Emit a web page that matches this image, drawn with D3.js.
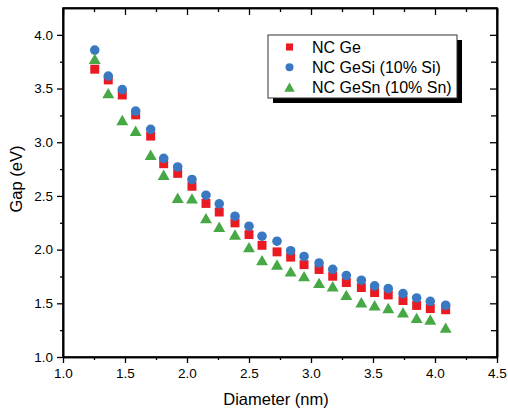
<!DOCTYPE html>
<html><head><meta charset="utf-8">
<script src="https://cdn.jsdelivr.net/npm/d3@7"></script>
<style>
html,body{margin:0;padding:0;background:#fff;}
svg{display:block;font-family:"Liberation Sans",Arial,sans-serif;}
</style></head>
<body>
<script>
const diameters = [1.256,1.365,1.478,1.586,1.707,1.812,1.925,2.04,2.153,2.26,2.387,2.50,2.605,2.726,2.836,2.944,3.065,3.175,3.285,3.406,3.513,3.623,3.742,3.852,3.962,4.086];
const gapGe   = [3.68,3.58,3.44,3.255,3.057,2.80,2.71,2.59,2.43,2.35,2.249,2.14,2.04,1.979,1.93,1.86,1.815,1.752,1.693,1.647,1.60,1.578,1.526,1.48,1.451,1.44];
const gapGeSi = [3.858,3.616,3.49,3.29,3.12,2.85,2.77,2.653,2.507,2.426,2.311,2.218,2.125,2.078,1.99,1.936,1.876,1.817,1.759,1.715,1.662,1.637,1.59,1.55,1.519,1.482];
const gapGeSn = [3.77,3.45,3.20,3.10,2.877,2.69,2.476,2.47,2.286,2.206,2.134,2.016,1.895,1.855,1.79,1.746,1.684,1.652,1.572,1.503,1.475,1.45,1.41,1.358,1.342,1.267];
const seriesNames = ["NC Ge","NC GeSi (10% Si)","NC GeSn (10% Sn)"];
const xTicks = [1.0,1.5,2.0,2.5,3.0,3.5,4.0,4.5];
const yTicks = [1.0,1.5,2.0,2.5,3.0,3.5,4.0];
const xMinor = [1.25,1.75,2.25,2.75,3.25,3.75,4.25];
const yMinor = [1.25,1.75,2.25,2.75,3.25,3.75];

const W=508,H=415;
const L=63,R=497,T=8,B=357;
const colors=["#ea1a22","#3a79c2","#47a846"];
const svg=d3.select("body").append("svg").attr("width",W).attr("height",H);
svg.append("rect").attr("width",W).attr("height",H).attr("fill","#fff");
const x=d3.scaleLinear().domain([1.0,4.5]).range([L,R]);
const y=d3.scaleLinear().domain([1.0,4.25]).range([B,T]);
const fmt=d3.format(".1f");

const gx=svg.append("g").attr("transform",`translate(0,${B})`)
 .call(d3.axisBottom(x).tickValues(xTicks).tickFormat(fmt).tickSize(6).tickPadding(5).tickSizeOuter(0));
const gxm=svg.append("g").attr("transform",`translate(0,${B})`)
 .call(d3.axisBottom(x).tickValues(xMinor).tickFormat("").tickSize(3).tickSizeOuter(0));
const gt=svg.append("g").attr("transform",`translate(0,${T})`)
 .call(d3.axisTop(x).tickValues(xTicks).tickFormat("").tickSize(-7).tickSizeOuter(0));
const gtm=svg.append("g").attr("transform",`translate(0,${T})`)
 .call(d3.axisTop(x).tickValues(xMinor).tickFormat("").tickSize(-4).tickSizeOuter(0));
const gy=svg.append("g").attr("transform",`translate(${L},0)`)
 .call(d3.axisLeft(y).tickValues(yTicks).tickFormat(fmt).tickSize(6).tickPadding(4).tickSizeOuter(0));
const gym=svg.append("g").attr("transform",`translate(${L},0)`)
 .call(d3.axisLeft(y).tickValues(yMinor).tickFormat("").tickSize(3).tickSizeOuter(0));
const gr=svg.append("g").attr("transform",`translate(${R},0)`)
 .call(d3.axisRight(y).tickValues(yTicks).tickFormat("").tickSize(-7).tickSizeOuter(0));
const grm=svg.append("g").attr("transform",`translate(${R},0)`)
 .call(d3.axisRight(y).tickValues(yMinor).tickFormat("").tickSize(-6).tickSizeOuter(0));

[gx,gxm,gt,gtm,gy,gym,gr,grm].forEach(g=>{
  g.selectAll("path.domain").attr("stroke","#000").attr("stroke-width",1.6);
  g.selectAll(".tick line").attr("stroke","#000").attr("stroke-width",1.3);
  g.selectAll(".tick text").attr("fill","#000").attr("font-size",13.5).attr("font-family","Liberation Sans, Arial, sans-serif");
});
svg.append("rect").attr("x",L).attr("y",T).attr("width",R-L).attr("height",B-T)
 .attr("fill","none").attr("stroke","#000").attr("stroke-width",1.6);

svg.append("text").attr("x",276).attr("y",405).attr("text-anchor","middle")
 .attr("font-size",16.5).attr("fill","#000").text("Diameter (nm)");
svg.append("text").attr("transform",`translate(22,179) rotate(-90)`).attr("text-anchor","middle")
 .attr("font-size",16.5).attr("fill","#000").text("Gap (eV)");

const sq=d3.symbol().type(d3.symbolSquare).size(80);
const ci=d3.symbol().type(d3.symbolCircle).size(72);
const tr=d3.symbol().type(d3.symbolTriangle).size(62);
const data=[gapGe,gapGeSi,gapGeSn];
const syms=[sq,ci,tr];
data.forEach((vals,si)=>{
  svg.append("g").selectAll("path").data(vals).join("path")
   .attr("d",syms[si])
   .attr("transform",(d,i)=>`translate(${x(diameters[i])},${y(d)+(si===2?1:0)})`)
   .attr("fill",colors[si]);
});

const lg=svg.append("g");
lg.append("rect").attr("x",273).attr("y",40).attr("width",189).attr("height",63).attr("fill","#000");
lg.append("rect").attr("x",268).attr("y",35).attr("width",189).attr("height",63).attr("fill","#fff")
 .attr("stroke","#333").attr("stroke-width",1);
const lsyms=[d3.symbol().type(d3.symbolSquare).size(50),d3.symbol().type(d3.symbolCircle).size(50),d3.symbol().type(d3.symbolTriangle).size(48)];
seriesNames.forEach((n,i)=>{
  const cy=47+i*20.3;
  lg.append("path").attr("d",lsyms[i]).attr("transform",`translate(289.5,${cy+(i===2?1:0)})`).attr("fill",colors[i]);
  lg.append("text").attr("x",312).attr("y",cy+5.5).attr("font-size",16).attr("fill","#000").text(n);
});
</script>
</body></html>
